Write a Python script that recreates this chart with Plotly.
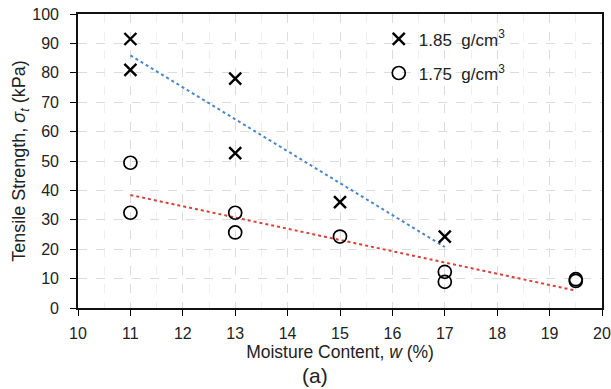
import numpy as np
import plotly.graph_objects as go

# Data
w_185 = [11, 11, 13, 13, 15, 17]
st_185 = [91.5, 81, 78, 52.7, 36, 24.3]
w_175 = [11, 11, 13, 13, 15, 17, 17, 19.5, 19.5]
st_175 = [49.4, 32.4, 32.4, 25.7, 24.3, 12.3, 8.9, 9.8, 9.2]
label_185 = "1.85\u00a0 g/cm<sup>3</sup>"
label_175 = "1.75\u00a0 g/cm<sup>3</sup>"
x_ticks = list(range(10, 21))
y_ticks = list(range(0, 101, 10))

FONT = "Liberation Sans, Arial, sans-serif"

fig = go.Figure()

# Linear trendlines (computed from the data)
for xs, ys, col in [(w_185, st_185, "#4a86c8"), (w_175, st_175, "#d9423a")]:
    m, b = np.polyfit(xs, ys, 1)
    xx = np.array([min(xs), max(xs)])
    fig.add_trace(go.Scatter(x=xx, y=m * xx + b, mode="lines",
                             line=dict(color=col, width=2, dash="dot"),
                             showlegend=False, hoverinfo="skip"))

fig.add_trace(go.Scatter(x=w_185, y=st_185, mode="markers", name=label_185,
                         legendgroup="a",
                         marker=dict(symbol="x-thin", size=12, color="black",
                                     line=dict(width=2.4, color="black"))))
fig.add_trace(go.Scatter(x=w_175, y=st_175, mode="markers", name=label_175,
                         legendgroup="b",
                         marker=dict(symbol="circle-open", size=13, color="black",
                                     line=dict(width=1.7, color="black"))))

axis_common = dict(ticks="outside", ticklen=6, tickcolor="black", tickwidth=1.2,
                   showline=True, linecolor="#111", linewidth=1.6, mirror=True,
                   showgrid=True, gridcolor="#dcdcdc", griddash="dash", gridwidth=1,
                   zeroline=False, tickfont=dict(size=16, color="#222"))

fig.update_layout(
    width=611, height=389,
    margin=dict(l=78, r=9, t=14, b=81, autoexpand=False),
    paper_bgcolor="white", plot_bgcolor="white",
    font=dict(family=FONT, color="#222", size=16),
    showlegend=True,
    legend=dict(x=0.574, y=0.975, xanchor="left", yanchor="top",
                bgcolor="rgba(0,0,0,0)", font=dict(size=17),
                tracegroupgap=9, traceorder="grouped"),
    xaxis=dict(range=[10, 20], tickvals=x_ticks, ticklabelstandoff=4,
               minor=dict(dtick=0.5, showgrid=True, gridcolor="#efefef", gridwidth=1),
               title=dict(text="Moisture Content, <i>w</i> (%)", font=dict(size=17.5),
                          standoff=4),
               **axis_common),
    yaxis=dict(range=[0, 100], tickvals=y_ticks, ticklabelstandoff=8,
               title=dict(text="Tensile Strength, <i>σ<sub>t</sub></i> (kPa)",
                          font=dict(size=18), standoff=2),
               **axis_common),
)

fig.add_annotation(text="(a)", xref="paper", yref="paper", x=0.452, y=-0.231,
                   xanchor="center", yanchor="middle", showarrow=False,
                   font=dict(size=21, family=FONT, color="#222"))

fig.write_html("out.html")
